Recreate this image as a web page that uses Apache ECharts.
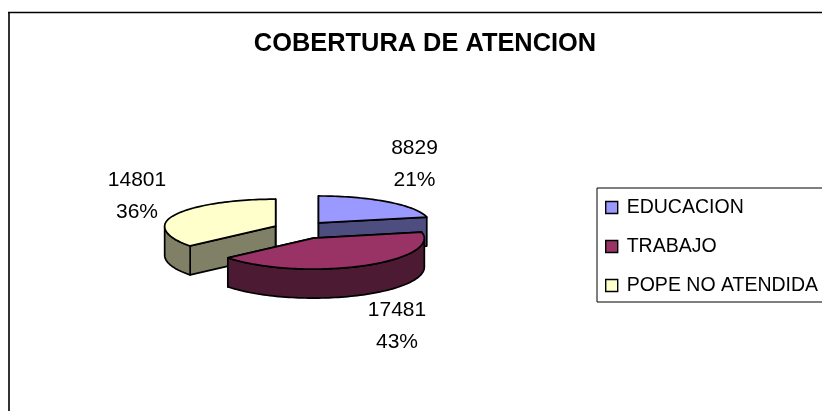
<!DOCTYPE html>
<html>
<head>
<meta charset="utf-8">
<style>html,body{margin:0;padding:0;background:#fff}#c{width:822px;height:411px}</style>
<script src="https://cdn.jsdelivr.net/npm/echarts@6/dist/echarts.min.js"></script>
</head>
<body>
<div id="c"></div>
<script>
const titleText = 'COBERTURA DE ATENCION';
const categories = ['EDUCACION', 'TRABAJO', 'POPE NO ATENDIDA'];
const values = [8829, 17481, 14801];
const colors = ['#9999FF', '#993366', '#FFFFCC'];
const sideColors = ['#4D4D80', '#4D1A33', '#808066'];
// back-to-front paint order of the slices
const paintOrder = [2, 0, 1];
// label anchor (centre of text block) for each slice
const labelAnchors = [[414.5, 164], [397, 326], [137, 196]];

const PIE = { cx: 301, cy: 230, rx: 111, ryBack: 27, ryFront: 31, depth: 29, explodeX: 28, explodeY: 9 };
const FONT = '"Liberation Sans", Arial, sans-serif';
const total = values.reduce((a, b) => a + b, 0);

function angleRange(i) {
  let s = 0;
  for (let k = 0; k < i; k++) s += values[k];
  return [s / total * 2 * Math.PI, (s + values[i]) / total * 2 * Math.PI];
}
function rim(o, t, dy) {
  const c = Math.cos(t);
  return [o[0] + PIE.rx * Math.sin(t), o[1] - (c > 0 ? PIE.ryBack : PIE.ryFront) * c + (dy || 0)];
}
function arcPoints(o, a, b, dy) {
  const n = Math.max(2, Math.ceil((b - a) / 0.03));
  const pts = [];
  for (let j = 0; j <= n; j++) pts.push(rim(o, a + (b - a) * j / n, dy));
  return pts;
}
function sliceShape(i) {
  const [a, b] = angleRange(i);
  const mid = (a + b) / 2;
  const o = [PIE.cx + PIE.explodeX * Math.sin(mid), PIE.cy - PIE.explodeY * Math.cos(mid)];
  const st = { stroke: '#000', lineWidth: 1.7, lineJoin: 'round' };
  const side = Object.assign({ fill: sideColors[i] }, st);
  const d = PIE.depth;
  const children = [];
  const wall = (t) => {
    const e = rim(o, t);
    children.push({ type: 'polygon', shape: { points: [o, e, [e[0], e[1] + d], [o[0], o[1] + d]] }, style: side });
  };
  wall(a); wall(b);
  const fa = Math.max(a, Math.PI / 2), fb = Math.min(b, 3 * Math.PI / 2);
  if (fb > fa) {
    const top = arcPoints(o, fa, fb, 0);
    const bot = arcPoints(o, fa, fb, d).reverse();
    children.push({ type: 'polygon', shape: { points: top.concat(bot) }, style: side });
  }
  children.push({
    type: 'polygon',
    shape: { points: [o].concat(arcPoints(o, a, b, 0)) },
    style: Object.assign({ fill: colors[i] }, st)
  });
  const pct = Math.round(values[i] / total * 100);
  children.push({
    type: 'text',
    style: {
      text: values[i] + '\n' + pct + '%',
      x: labelAnchors[i][0], y: labelAnchors[i][1],
      align: 'center', verticalAlign: 'middle',
      font: '21px ' + FONT, lineHeight: 32, fill: '#000'
    }
  });
  return { type: 'group', children };
}

const chart = echarts.init(document.getElementById('c'), null, { renderer: 'canvas' });
chart.setOption({
  animation: false,
  backgroundColor: '#fff',
  title: {
    text: titleText, left: 420, top: 26, textAlign: 'center',
    textStyle: { fontFamily: FONT, fontWeight: 'bold', fontSize: 25.4, color: '#000' }
  },
  legend: {
    orient: 'vertical', left: 597, top: 188,
    data: categories,
    icon: 'rect', itemWidth: 12, itemHeight: 12, itemGap: 16,
    padding: [8, 20, 5, 8],
    borderColor: '#000', borderWidth: 1,
    selectedMode: false,
    itemStyle: { borderColor: '#000', borderWidth: 1.4 },
    textStyle: { fontFamily: FONT, fontSize: 19.5, color: '#000', padding: [0, 0, 0, 4], width: 192, lineHeight: 23 }
  },
  graphic: [{
    type: 'line', silent: true,
    shape: { x1: 9, y1: 411, x2: 9, y2: 12 },
    style: { stroke: '#333', lineWidth: 2 }
  }, {
    type: 'line', silent: true,
    shape: { x1: 8, y1: 12.5, x2: 822, y2: 12.5 },
    style: { stroke: '#000', lineWidth: 1.5 }
  }],
  series: paintOrder.map(i => ({
    type: 'custom',
    name: categories[i],
    coordinateSystem: 'none',
    silent: true,
    itemStyle: { color: colors[i] },
    data: [values[i]],
    renderItem: () => sliceShape(i)
  }))
});
</script>
</body>
</html>
